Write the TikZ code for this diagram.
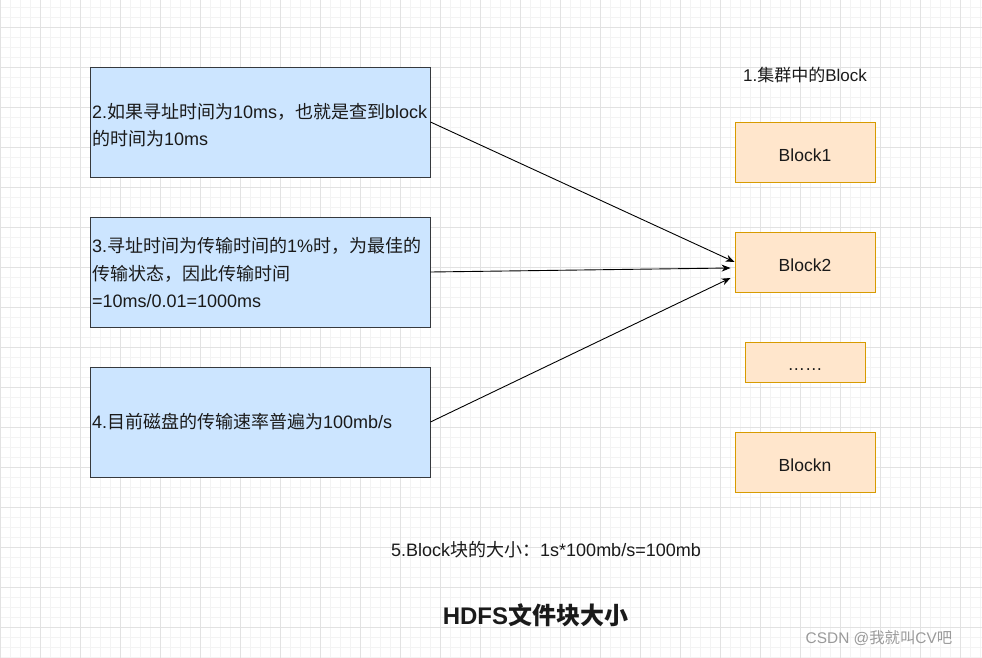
\documentclass[tikz,border=0pt]{standalone}
\usepackage{fontspec}
\setmainfont{Liberation Sans}
\newfontfamily\cjk{Noto Sans CJK SC}
\newcommand\zh[1]{{\cjk #1}}
\usetikzlibrary{arrows.meta}
\definecolor{bluefill}{HTML}{CCE5FF}
\definecolor{bluedraw}{HTML}{36393D}
\definecolor{orfill}{HTML}{FFE6CC}
\definecolor{ordraw}{HTML}{D79B00}
\definecolor{gridminor}{HTML}{F3F3F3}
\definecolor{gridmajor}{HTML}{E2E2E2}
\definecolor{txt}{HTML}{1A1A1A}
\definecolor{wm}{HTML}{9A9A9A}
\tikzset{
  infobox/.style={draw=bluedraw, fill=bluefill, line width=0.9pt, minimum height=110pt,
    text width=336pt, inner xsep=2pt, inner ysep=0pt, align=left, text=txt,
    font=\fontsize{18}{27.5}\selectfont},
  blockbox/.style={draw=ordraw, fill=orfill, line width=0.9pt, minimum width=140pt,
    minimum height=60pt, inner sep=0pt, text=txt, font=\fontsize{17.5}{21}\selectfont,
    text height=18pt, text depth=0pt},
  label/.style={inner sep=0pt, text=txt},
  conn/.style={line width=0.9pt, -{Stealth[length=9pt,width=7pt]}}
}
\begin{document}
\begin{tikzpicture}[x=1pt,y=-1pt]
\fill[white] (0,0) rectangle (982,658);
\useasboundingbox (0,0) rectangle (982,658);
% grid
\foreach \gx in {0,10,...,980} \draw[gridminor, line width=0.6pt] (\gx,0) -- (\gx,658);
\foreach \gy in {7,17,...,657} \draw[gridminor, line width=0.6pt] (0,\gy) -- (982,\gy);
\foreach \gx in {0,40,...,980} \draw[gridmajor, line width=0.8pt] (\gx,0) -- (\gx,658);
\foreach \gy in {27,67,...,657} \draw[gridmajor, line width=0.8pt] (0,\gy) -- (982,\gy);
% left boxes
\node[infobox, text height=15pt, text depth=22pt] (b2) at (260,122) {2.\zh{如果寻址时间为}10ms\zh{，也就是查到}block\\\zh{的时间为}10ms};
\node[infobox, text height=15pt, text depth=54pt] (b3) at (260,272) {3.\zh{寻址时间为传输时间的}1\%\zh{时，为最佳的}\\\zh{传输状态，因此传输时间}\\=10ms/0.01=1000ms};
\node[infobox] (b4) at (260,422) {4.\zh{目前磁盘的传输速率普遍为}100mb/s};
% blocks
\node[label, font=\fontsize{17}{20}\selectfont] (t1) at (805,75) {1.\zh{集群中的}Block};
\node[blockbox] (k1) at (805,152) {Block1};
\node[blockbox] (k2) at (805,262) {Block2};
\node[blockbox, minimum width=120pt, minimum height=40pt, text height=17pt] (kd) at (805,362) {……};
\node[blockbox] (kn) at (805,462) {Blockn};
% notes
\node[label, font=\fontsize{18}{21}\selectfont] (n5) at (546,550) {5.Block\zh{块的大小：}1s*100mb/s=100mb};
\node[label, font=\fontsize{24}{28}\selectfont\bfseries] (title) at (535.5,615) {HDFS\zh{文件块大小}};
\node[label, text=wm, font=\fontsize{15.4}{18}\selectfont] (wmk) at (879,638) {CSDN @\zh{我就叫}CV\zh{吧}};
% connectors
\draw[conn] (b2.east) -- (k2.west);
\draw[conn] (b3.east) -- ([xshift=-4pt,yshift=-6pt]k2.west);
\draw[conn] (b4.east) -- ([xshift=-4pt,yshift=-16pt]k2.west);
\end{tikzpicture}
\end{document}
